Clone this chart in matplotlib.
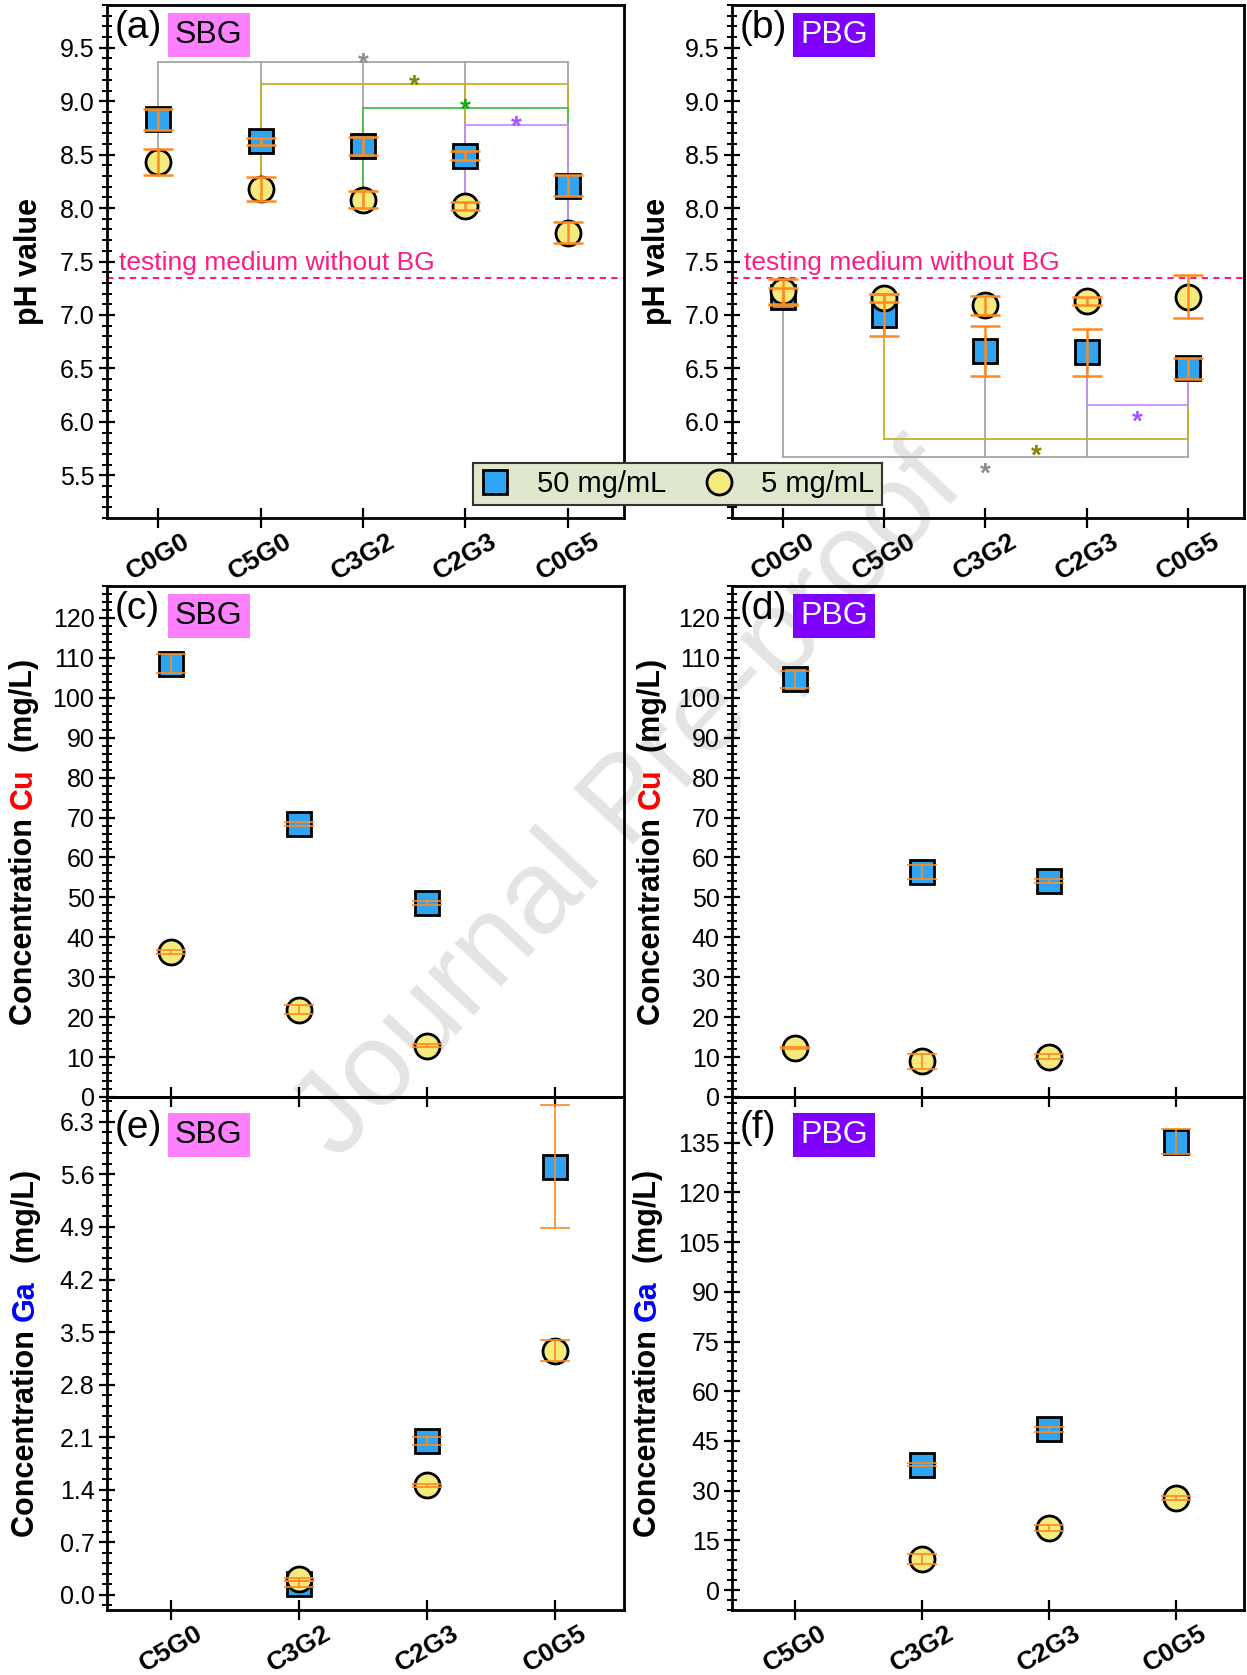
import matplotlib
matplotlib.use("Agg")
import matplotlib.pyplot as plt
from matplotlib.lines import Line2D
from matplotlib.ticker import MultipleLocator
import numpy as np

plt.rcParams["font.family"] = ["Liberation Sans", "DejaVu Sans"]

W, H = 1247, 1675
nan = np.nan

PH_GROUPS = ["C0G0", "C5G0", "C3G2", "C2G3", "C0G5"]
ION_GROUPS = ["C5G0", "C3G2", "C2G3", "C0G5"]

# pH of the medium after soaking, 50 mg/mL and 5 mg/mL
ph_sbg_50 = [8.83, 8.625, 8.58, 8.49, 8.21]
ph_sbg_50_err = [0.10, 0.035, 0.085, 0.04, 0.10]
ph_sbg_5 = [8.43, 8.18, 8.08, 8.02, 7.77]
ph_sbg_5_err = [0.12, 0.11, 0.08, 0.04, 0.10]

ph_pbg_50 = [7.17, 7.00, 6.66, 6.65, 6.50]
ph_pbg_50_err = [0.08, 0.20, 0.235, 0.22, 0.095]
ph_pbg_5 = [7.22, 7.16, 7.09, 7.13, 7.17]
ph_pbg_5_err = [0.12, 0.04, 0.09, 0.035, 0.20]

PH_MEDIUM = 7.35

# released Cu (mg/L)
cu_sbg_50 = [108.5, 68.4, 48.6, nan]
cu_sbg_50_err = [2.4, 0.6, 0.6, nan]
cu_sbg_5 = [36.2, 21.9, 12.9, nan]
cu_sbg_5_err = [0.5, 1.1, 0.35, nan]

cu_pbg_50 = [104.6, 56.4, 54.1, nan]
cu_pbg_50_err = [2.1, 1.8, 0.5, nan]
cu_pbg_5 = [12.2, 8.9, 10.1, nan]
cu_pbg_5_err = [0.3, 1.9, 0.65, nan]

# released Ga (mg/L)
ga_sbg_50 = [nan, 0.15, 2.05, 5.70]
ga_sbg_50_err = [nan, 0.04, 0.05, 0.82]
ga_sbg_5 = [nan, 0.21, 1.46, 3.25]
ga_sbg_5_err = [nan, 0.02, 0.02, 0.14]

ga_pbg_50 = [nan, 37.9, 48.5, 135.3]
ga_pbg_50_err = [nan, 0.45, 0.7, 3.7]
ga_pbg_5 = [nan, 9.3, 18.7, 27.9]
ga_pbg_5_err = [nan, 1.5, 0.8, 0.65]

# significance brackets: (line colour, star colour, level, joined groups)
sbg_brackets = [
    ("#a6a6a6", "#8c8c8c", 9.37, [0, 1, 2, 3, 4]),
    ("#c4b02e", "#858500", 9.16, [1, 3, 4]),
    ("#4cbf4c", "#19a519", 8.94, [2, 4]),
    ("#c38cff", "#a855ff", 8.78, [3, 4]),
]
pbg_brackets = [
    ("#a6a6a6", "#8c8c8c", 5.67, [0, 2, 3, 4]),
    ("#c4b02e", "#858500", 5.84, [1, 4]),
    ("#c38cff", "#a855ff", 6.16, [3, 4]),
]

SQ_FACE = "#2ea4f2"
CI_FACE = "#f6ea7e"
ERR = "#ff8a1e"
PINK = "#ff1a85"
SBG_BOX = "#ff80ff"
PBG_BOX = "#8000ff"


def rect(x0, y0, x1, y1):
    """pixel box (top-left origin) -> figure-fraction rect"""
    return [x0 / W, 1 - y1 / H, (x1 - x0) / W, (y1 - y0) / H]


def style(ax, show_xlabels=True):
    for s in ax.spines.values():
        s.set_linewidth(2)
    ax.set_facecolor("none")
    ax.tick_params(axis="y", which="major", direction="inout", length=12,
                   width=1.6, labelsize=18, pad=3, right=False)
    ax.tick_params(axis="y", which="minor", direction="inout", length=7,
                   width=1.4, right=False)
    ax.tick_params(axis="x", which="major", direction="inout", length=14,
                   width=1.6, top=False, labelbottom=show_xlabels, pad=1)
    ax.tick_params(axis="x", which="minor", bottom=False, top=False)
    if show_xlabels:
        for lab in ax.get_xticklabels():
            lab.set_rotation(30)
            lab.set_fontweight("bold")
            lab.set_fontsize(19)
            lab.set_ha("center")


def series(ax, x, y50, e50, y5, e5, elw, ms=17):
    ax.plot(x, y50, ls="none", marker="s", ms=ms, mfc=SQ_FACE, mec="black",
            mew=2, zorder=3)
    ax.plot(x, y5, ls="none", marker="o", ms=ms + 1, mfc=CI_FACE, mec="black",
            mew=2, zorder=4)
    ax.errorbar(x, y50, yerr=e50, fmt="none", ecolor=ERR, elinewidth=elw,
                capsize=11, capthick=elw, zorder=5)
    ax.errorbar(x, y5, yerr=e5, fmt="none", ecolor=ERR, elinewidth=elw,
                capsize=11, capthick=elw, zorder=6)


def brackets(ax, x, lows, spec, star_dy):
    for col, scol, lvl, grp in spec:
        ax.plot([x[grp[0]], x[grp[-1]]], [lvl, lvl], color=col, lw=1.3, zorder=2)
        for g in grp:
            ax.plot([x[g], x[g]], [lvl, lows[g]], color=col, lw=1.3, zorder=2)
        xm = (x[grp[0]] + x[grp[-1]]) / 2
        ax.annotate("*", (xm, lvl), xytext=(0, star_dy), textcoords="offset points",
                    ha="center", va="baseline", fontsize=20, color=scol,
                    fontweight="bold", zorder=7)


def tag(ax, letter, name, box, fg, dy=0):
    ax.annotate(f"({letter})", (0, 1), xycoords="axes fraction",
                xytext=(8, -5 - dy), textcoords="offset pixels",
                ha="left", va="top", fontsize=28, zorder=8)
    ax.annotate(name, (0, 1), xycoords="axes fraction",
                xytext=(68, -30 - dy), textcoords="offset pixels",
                ha="left", va="center", fontsize=23, color=fg, zorder=8,
                bbox=dict(facecolor=box, edgecolor="none", pad=5))


def ylabel_parts(fig, ax, parts, x_px, fontsize=22):
    """bold vertical label built from coloured pieces, centred on the axes"""
    renderer = fig.canvas.get_renderer()
    texts = [fig.text(0, 0, s, color=c, rotation=90, fontsize=fontsize,
                      fontweight="bold", ha="center", va="bottom")
             for s, c in parts]
    hs = [t.get_window_extent(renderer).height for t in texts]
    bb = ax.get_position()
    y = (bb.y0 + bb.y1) / 2 * H - sum(hs) / 2
    for t, h in zip(texts, hs):
        t.set_position((x_px / W, y / H))
        y += h


def main():
    fig = plt.figure(figsize=(W / 100, H / 100), dpi=100)
    fig.text(0.505, 0.52, "Journal Pre-proof", fontsize=86, color="#e4e4e4",
             rotation=47, ha="center", va="center", zorder=-5)

    ax_a = fig.add_axes(rect(107, 5, 624, 518))
    ax_b = fig.add_axes(rect(732, 5, 1244, 518))
    ax_c = fig.add_axes(rect(107, 586, 624, 1097))
    ax_d = fig.add_axes(rect(732, 586, 1244, 1097))
    ax_e = fig.add_axes(rect(107, 1097, 624, 1610))
    ax_f = fig.add_axes(rect(732, 1097, 1244, 1610))

    # ---- pH panels ----
    xp = np.arange(len(PH_GROUPS))
    for ax, d50, e50, d5, e5, spec, sdy in [
        (ax_a, ph_sbg_50, ph_sbg_50_err, ph_sbg_5, ph_sbg_5_err, sbg_brackets, -7),
        (ax_b, ph_pbg_50, ph_pbg_50_err, ph_pbg_5, ph_pbg_5_err, pbg_brackets, -18),
    ]:
        series(ax, xp, d50, e50, d5, e5, elw=1.8)
        lows = np.minimum(d50, d5)
        brackets(ax, xp, lows, spec, sdy)
        ax.axhline(PH_MEDIUM, color=PINK, ls=(0, (3, 2.5)), lw=1.5, zorder=1)
        ax.annotate("testing medium without BG", (0, PH_MEDIUM), xycoords=("axes fraction", "data"),
                    xytext=(12, 8), textcoords="offset pixels", ha="left", va="baseline",
                    fontsize=19, color=PINK)
        ax.set_ylim(5.1, 9.9)
        ax.set_xlim(-0.5, 4.55)
        ax.yaxis.set_major_locator(MultipleLocator(0.5))
        ax.yaxis.set_minor_locator(MultipleLocator(0.1))
        ax.yaxis.set_major_formatter(lambda v, p: f"{v:.1f}" if v < 9.75 else "")
        ax.set_xticks(xp, PH_GROUPS)
        style(ax)

    # ---- ion release panels ----
    xi = np.arange(len(ION_GROUPS))
    panels = [
        (ax_c, cu_sbg_50, cu_sbg_50_err, cu_sbg_5, cu_sbg_5_err, (0, 128), 10, 2, "{:.0f}", False),
        (ax_d, cu_pbg_50, cu_pbg_50_err, cu_pbg_5, cu_pbg_5_err, (0, 128), 10, 2, "{:.0f}", False),
        (ax_e, ga_sbg_50, ga_sbg_50_err, ga_sbg_5, ga_sbg_5_err, (-0.2, 6.63), 0.7, 0.14, "{:.1f}", True),
        (ax_f, ga_pbg_50, ga_pbg_50_err, ga_pbg_5, ga_pbg_5_err, (-6, 148.8), 15, 3, "{:.0f}", True),
    ]
    for ax, d50, e50, d5, e5, ylim, maj, mnr, fmt, lab in panels:
        series(ax, xi, d50, e50, d5, e5, elw=1.2)
        ax.set_ylim(*ylim)
        ax.set_xlim(-0.5, 3.54)
        ax.yaxis.set_major_locator(MultipleLocator(maj))
        ax.yaxis.set_minor_locator(MultipleLocator(mnr))
        top = ylim[1]
        ax.yaxis.set_major_formatter(
            lambda v, p, fmt=fmt, top=top, maj=maj: fmt.format(abs(v) if abs(v) < 1e-9 else v)
            if v <= top - maj * 0.3 else "")
        ax.set_xticks(xi, ION_GROUPS)
        style(ax, show_xlabels=lab)

    tag(ax_a, "a", "SBG", SBG_BOX, "black")
    tag(ax_b, "b", "PBG", PBG_BOX, "white")
    tag(ax_c, "c", "SBG", SBG_BOX, "black")
    tag(ax_d, "d", "PBG", PBG_BOX, "white")
    tag(ax_e, "e", "SBG", SBG_BOX, "black", dy=8)
    tag(ax_f, "f", "PBG", PBG_BOX, "white", dy=8)

    ylabel_parts(fig, ax_a, [("pH value", "black")], 29)
    ylabel_parts(fig, ax_b, [("pH value", "black")], 657)
    cu = [("Concentration ", "black"), ("Cu", "#ff0000"), ("  (mg/L)", "black")]
    ga = [("Concentration ", "black"), ("Ga", "#0000ff"), ("  (mg/L)", "black")]
    ylabel_parts(fig, ax_c, cu, 24)
    ylabel_parts(fig, ax_d, cu, 652)
    ylabel_parts(fig, ax_e, ga, 26)
    ylabel_parts(fig, ax_f, ga, 648)

    handles = [
        Line2D([], [], ls="none", marker="s", ms=17, mfc=SQ_FACE, mec="black", mew=2),
        Line2D([], [], ls="none", marker="o", ms=18, mfc=CI_FACE, mec="black", mew=2),
    ]
    leg = fig.legend(handles, ["50 mg/mL", "5 mg/mL"], loc="center",
                     bbox_to_anchor=(677.5 / W, 1 - 484 / H), ncol=2, fontsize=21,
                     frameon=True, fancybox=False, facecolor="#dfe8cc",
                     edgecolor="#333333", framealpha=1, borderpad=0.25,
                     handlelength=1.0, handletextpad=0.95, columnspacing=1.3)
    leg.get_frame().set_linewidth(1.5)

    fig.savefig("out.png", dpi=100)
    plt.close(fig)


if __name__ == "__main__":
    main()
